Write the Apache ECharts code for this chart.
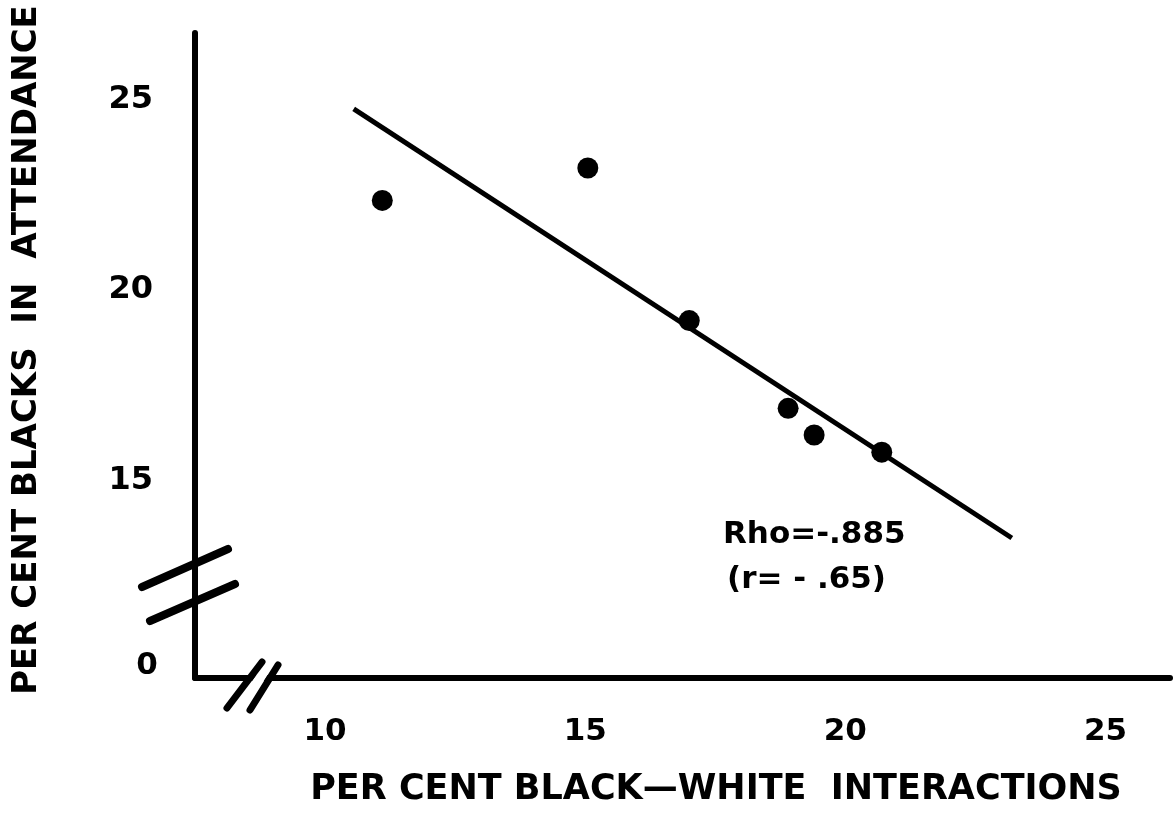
<!DOCTYPE html>
<html>
<head>
<meta charset="utf-8">
<title>Per cent blacks in attendance vs. black-white interactions</title>
<script src="https://cdn.jsdelivr.net/npm/echarts@6/dist/echarts.min.js"></script>
<style>
  html, body { margin: 0; padding: 0; background: #ffffff; }
  #chart { width: 1175px; height: 825px; }
</style>
</head>
<body>
<div id="chart"></div>
<script>
// Observed meetings: per cent black-white interactions vs. per cent blacks attending
const interactionPct = [11.1, 15.05, 17.0, 18.9, 19.4, 20.7];
const attendancePct  = [22.35, 23.2, 19.2, 16.9, 16.2, 15.75];

// Fitted regression line, end points
const fitLineX = [10.55, 23.2];
const fitLineY = [24.75, 13.5];

// Axis ticks and ranges (both axes are broken near the origin)
const xTickValues = [10, 15, 20, 25];
const yTickValues = [15, 20, 25];
const originLabel = '0';
const xRange = [7.5, 26.24];
const yRange = [9.83, 26.74];

// Text
const xTitle = 'PER CENT BLACK\u2014WHITE  INTERACTIONS';
const yTitle = 'PER CENT BLACKS  IN  ATTENDANCE';
const statLines = ['Rho=-.885', '(r= - .65)'];

const FONT = '"DejaVu Sans", "Liberation Sans", sans-serif';
const INK = '#000000';

const chart = echarts.init(document.getElementById('chart'), null, { renderer: 'canvas' });

chart.setOption({
  backgroundColor: '#ffffff',
  animation: false,
  grid: { left: 195, right: 5, top: 33, bottom: 147, containLabel: false },
  xAxis: {
    type: 'value',
    min: xRange[0],
    max: xRange[1],
    splitLine: { show: false },
    axisTick: { show: false },
    axisLine: { show: true, lineStyle: { color: INK, width: 6 } },
    axisLabel: {
      customValues: xTickValues,
      margin: 38,
      color: INK,
      fontFamily: FONT,
      fontWeight: 'bold',
      fontSize: 31
    }
  },
  yAxis: {
    type: 'value',
    min: yRange[0],
    max: yRange[1],
    splitLine: { show: false },
    axisTick: { show: false },
    axisLine: { show: true, lineStyle: { color: INK, width: 6 } },
    axisLabel: {
      customValues: yTickValues,
      margin: 42,
      color: INK,
      fontFamily: FONT,
      fontWeight: 'bold',
      fontSize: 32
    }
  },
  series: [
    {
      type: 'line',
      data: fitLineX.map((x, i) => [x, fitLineY[i]]),
      symbol: 'none',
      lineStyle: { color: INK, width: 5 },
      z: 2
    },
    {
      type: 'scatter',
      data: interactionPct.map((x, i) => [x, attendancePct[i]]),
      symbol: 'circle',
      symbolSize: 21,
      itemStyle: { color: INK, opacity: 1 },
      z: 3
    }
  ]
});

// Axis breaks, origin label, titles and the correlation note
const o = chart.convertToPixel({ gridIndex: 0 }, [xRange[0], yRange[0]]);
const ox = o[0], oy = o[1];

function stroke(x1, y1, x2, y2, w) {
  return {
    type: 'line', z: 100,
    shape: { x1: ox + x1, y1: oy + y1, x2: ox + x2, y2: oy + y2 },
    style: { stroke: INK, lineWidth: w, lineCap: 'round' }
  };
}

chart.setOption({
  graphic: [
    // gap in the horizontal axis between the two break strokes
    {
      type: 'polygon', z: 99,
      shape: { points: [[ox + 66, oy - 10], [ox + 77, oy - 10], [ox + 63, oy + 12], [ox + 51, oy + 12]] },
      style: { fill: '#ffffff' }
    },
    stroke(32, 30, 67, -16, 7),
    stroke(55, 32, 83, -13, 7),
    // break on the vertical axis
    stroke(-53, -91, 33, -129, 8),
    stroke(-45, -57, 40, -94, 8),
    {
      type: 'text', z: 100,
      style: {
        text: originLabel, x: ox - 48, y: oy - 12,
        align: 'center', verticalAlign: 'middle',
        font: 'bold 31px ' + FONT, fill: INK
      }
    },
    {
      type: 'text', z: 100,
      style: {
        text: xTitle, x: 716, y: 790,
        align: 'center', verticalAlign: 'middle',
        font: 'bold 35px ' + FONT, fill: INK
      }
    },
    {
      type: 'text', z: 100,
      x: 27, y: 350, rotation: Math.PI / 2,
      style: {
        text: yTitle, x: 0, y: 0,
        align: 'center', verticalAlign: 'middle',
        font: 'bold 34px ' + FONT, fill: INK
      }
    },
    {
      type: 'text', z: 100,
      style: {
        text: statLines[0], x: 723, y: 535,
        align: 'left', verticalAlign: 'middle',
        font: 'bold 31px ' + FONT, fill: INK
      }
    },
    {
      type: 'text', z: 100,
      style: {
        text: statLines[1], x: 727, y: 580,
        align: 'left', verticalAlign: 'middle',
        font: 'bold 31px ' + FONT, fill: INK
      }
    }
  ]
});
</script>
</body>
</html>
